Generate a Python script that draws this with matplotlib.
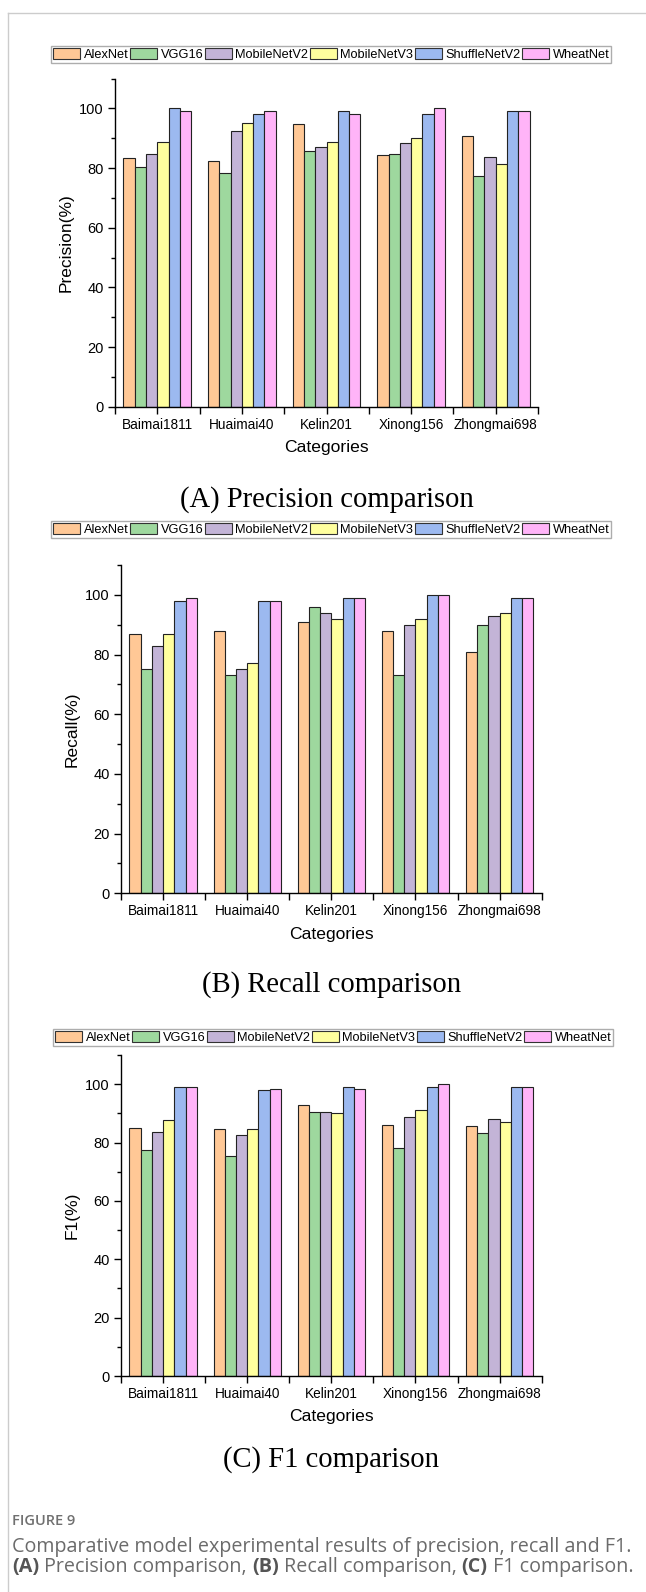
import matplotlib
matplotlib.use("Agg")
import matplotlib.pyplot as plt
from matplotlib.patches import Patch
from matplotlib.lines import Line2D
import numpy as np

categories = ["Baimai1811", "Huaimai40", "Kelin201", "Xinong156", "Zhongmai698"]
models = ["AlexNet", "VGG16", "MobileNetV2", "MobileNetV3", "ShuffleNetV2", "WheatNet"]
colors = ["#FFC896", "#9ED89E", "#C3B4D7", "#FFFF9E", "#9CB9F0", "#FFB4F8"]

precision_alexnet = [83.5, 82.2, 94.9, 84.5, 90.8]
precision_vgg16 = [80.4, 78.2, 85.7, 84.7, 77.4]
precision_mobilenetv2 = [84.6, 92.5, 87.2, 88.3, 83.6]
precision_mobilenetv3 = [88.7, 95.1, 88.6, 90.1, 81.5]
precision_shufflenetv2 = [100.0, 98.1, 99.0, 98.1, 99.0]
precision_wheatnet = [99.0, 99.0, 98.1, 100.0, 99.0]

recall_alexnet = [87, 88, 91, 88, 81]
recall_vgg16 = [75, 73, 96, 73, 90]
recall_mobilenetv2 = [83, 75, 94, 90, 93]
recall_mobilenetv3 = [87, 77, 92, 92, 94]
recall_shufflenetv2 = [98, 98, 99, 100, 99]
recall_wheatnet = [99, 98, 99, 100, 99]

f1_alexnet = [85.0, 84.8, 92.7, 86.1, 85.5]
f1_vgg16 = [77.4, 75.3, 90.5, 78.2, 83.1]
f1_mobilenetv2 = [83.5, 82.6, 90.3, 88.9, 88.0]
f1_mobilenetv3 = [87.7, 84.8, 90.1, 91.0, 87.2]
f1_shufflenetv2 = [99.0, 97.9, 99.0, 99.0, 99.0]
f1_wheatnet = [99.0, 98.4, 98.4, 100.0, 99.0]

panels = [
    ("Precision(%)", "(A) Precision comparison",
     [precision_alexnet, precision_vgg16, precision_mobilenetv2, precision_mobilenetv3, precision_shufflenetv2, precision_wheatnet]),
    ("Recall(%)", "(B) Recall comparison",
     [recall_alexnet, recall_vgg16, recall_mobilenetv2, recall_mobilenetv3, recall_shufflenetv2, recall_wheatnet]),
    ("F1(%)", "(C) F1 comparison",
     [f1_alexnet, f1_vgg16, f1_mobilenetv2, f1_mobilenetv3, f1_shufflenetv2, f1_wheatnet]),
]

plt.rcParams['font.family'] = ['Liberation Sans', 'DejaVu Sans']
W, H = 646, 1592
fig = plt.figure(figsize=(W / 100, H / 100), dpi=100)

# pixel boxes: left, right, top, bottom
axboxes = [(115, 538, 78.5, 406.7), (121, 541.7, 565, 893.3), (121, 541.7, 1055, 1376)]
legboxes = [(51, 46, 62), (51, 521, 537), (53, 1029, 1043)]  # left, top, bottom
title_y = [499.7, 985, 1460]

def fx(x): return x / W
def fy(y): return 1 - y / H

x = np.arange(len(categories))
bw = 0.8 / len(models)
legfs = 9.2

for (ylab, ttl, series), (l, r, t, b), (ll, lt, lb), ty in zip(panels, axboxes, legboxes, title_y):
    ax = fig.add_axes([fx(l), fy(b), (r - l) / W, (b - t) / H])
    for i, (vals, c) in enumerate(zip(series, colors)):
        ax.bar(x + (i - 2.5) * bw, vals, width=bw, color=c, edgecolor="#222222", linewidth=0.8)
    ax.set_xlim(-0.5, 4.5)
    ax.set_ylim(0, 110)
    ax.set_yticks([0, 20, 40, 60, 80, 100])
    ax.set_yticks([10, 30, 50, 70, 90, 110], minor=True)
    ax.set_xticks(x)
    ax.set_xticks(np.arange(-0.5, 5, 1.0), minor=True)
    ax.set_xticklabels(categories, fontsize=9.8)
    ax.tick_params(axis='y', labelsize=10.5, direction='out', length=5, width=1, pad=3)
    ax.tick_params(axis='y', which='minor', direction='out', length=3, width=1)
    ax.tick_params(axis='x', which='both', direction='out', length=5, width=1, pad=3)
    for s in ['top', 'right']:
        ax.spines[s].set_visible(False)
    for s in ['left', 'bottom']:
        ax.spines[s].set_linewidth(1.0)
    ax.set_ylabel(ylab, fontsize=12.5, labelpad=4)
    ax.set_xlabel("Categories", fontsize=12.6, labelpad=6)
    handles = [Patch(facecolor=c, edgecolor="#333333", linewidth=0.8) for c in colors]
    leg = fig.legend(handles, models, loc='upper left', bbox_to_anchor=(fx(ll), fy(lt)),
                     ncol=6, frameon=True, fancybox=False, borderpad=0.15,
                     prop={'family': ['Liberation Sans'], 'size': legfs},
                     handlelength=27 / (legfs * 100 / 72), handleheight=0.95, handletextpad=0.3,
                     columnspacing=0.1, borderaxespad=0)
    leg.get_frame().set_edgecolor("#999999")
    leg.get_frame().set_linewidth(1.0)
    fig.text(0.5 * (fx(l) + fx(r)), fy(ty), ttl, fontsize=20.6, family='Liberation Serif',
             ha='center', va='center')

# border
fig.add_artist(Line2D([fx(7.5), fx(7.5)], [fy(13), 0], color="#cccccc", lw=1.0))
fig.add_artist(Line2D([fx(7.5), 1], [fy(13), fy(13)], color="#cccccc", lw=1.0))

# caption
grey = "#6b6b6b"
capfs = 14.2
fig.text(fx(12), fy(1521), "FIGURE 9", fontsize=10.5, family='Open Sans', color="#707070",
         fontweight='semibold', va='center')
fig.text(fx(12), fy(1547), "Comparative model experimental results of precision, recall and F1.",
         fontsize=capfs, family='Open Sans', color=grey, va='center')

renderer = fig.canvas.get_renderer()
parts = [("(A)", True), (" Precision comparison, ", False), ("(B)", True), (" Recall comparison, ", False),
         ("(C)", True), (" F1 comparison.", False)]
cx = 12
for txt, bold in parts:
    tt = fig.text(fx(cx), fy(1567), txt, fontsize=capfs, family='Open Sans',
                  color="#555555" if bold else grey, fontweight='bold' if bold else 'normal', va='center')
    bb = tt.get_window_extent(renderer=renderer)
    cx += bb.width

fig.savefig("out.png", dpi=100)
